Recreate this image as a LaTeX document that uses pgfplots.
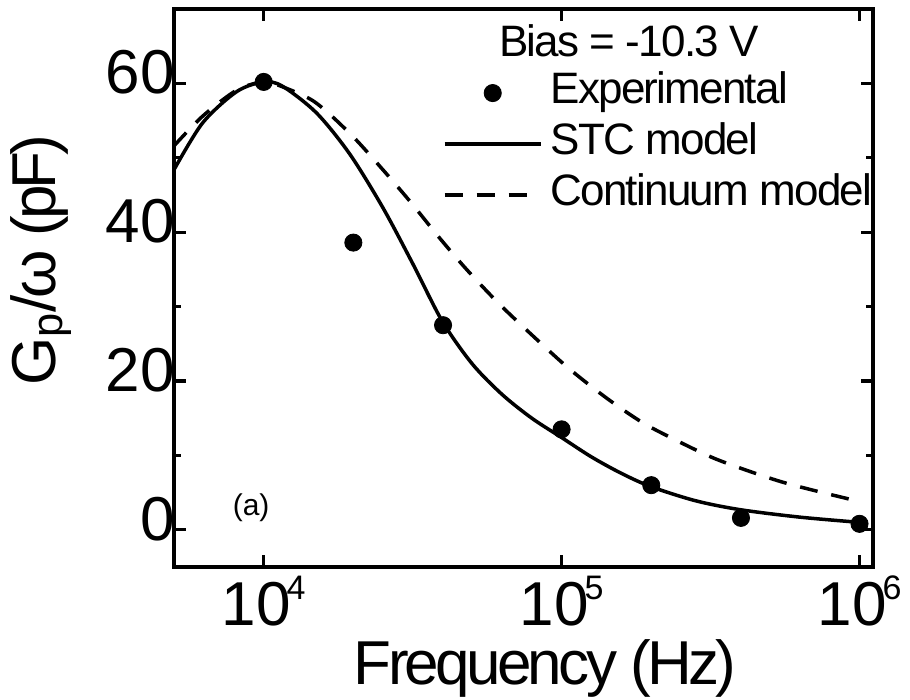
\documentclass[border=0pt]{standalone}
\usepackage{fontspec}
\setmainfont{Liberation Sans}
\usepackage{pgfplots}
\pgfplotsset{compat=1.18}
\newcommand{\bigf}{\fontsize{31}{36}\selectfont\addfontfeatures{LetterSpace=-6}}
\newcommand{\tickf}{\fontsize{31}{36}\selectfont}
\newcommand{\legf}{\fontsize{22}{26}\selectfont\addfontfeatures{LetterSpace=-4}}
\newcommand{\dec}[1]{10\kern-2pt\raisebox{0.42em}{\fontsize{17}{17}\selectfont #1}}
\begin{document}
\begin{tikzpicture}
\path[use as bounding box] (-87pt,-66.5pt) rectangle (368pt,283.5pt);
\begin{axis}[
  at={(0pt,0pt)}, anchor=south west,
  width=349.5pt, height=279pt, scale only axis,
  xmode=log, log basis x=10,
  xmin=5000, xmax=1.11e6, ymin=-5, ymax=70,
  axis line style={line width=2pt},
  every tick/.style={black, line width=1.6pt},
  major tick length=6pt, minor tick length=3.5pt,
  tick align=inside,
  xtick={1e4,1e5,1e6},
  xticklabels={\dec{4},\dec{5},\dec{6}},
  ytick={0,20,40,60}, yticklabels={0,20,40,60},
  minor ytick={10,30,50},
  xticklabel style={font=\tickf, anchor=base, inner sep=0pt, yshift=-29.5pt},
  yticklabel style={font=\tickf, inner sep=0pt, xshift=0.5pt, yshift=5.5pt},
  xlabel={Frequency (Hz)},
  ylabel={G\textsubscript{p}/ω (pF)},
  xlabel style={font=\bigf, inner sep=0pt, at={(axis description cs:0.531,-0.210)}, anchor=base},
  ylabel style={font=\bigf, at={(axis description cs:-0.170,0.55)}, anchor=base},
  legend image code/.code={\draw[mark repeat=2,mark phase=2,#1] plot coordinates {(0pt,0pt) (24pt,0pt) (48pt,0pt)};},
  legend style={draw=none, fill=none, inner sep=0pt, outer sep=0pt,
    at={(axis description cs:0.3848,0.887)}, anchor=north west,
    row sep=4.5pt, column sep=4pt, font=\legf,
    nodes={inner sep=0pt, text height=15.5pt, text depth=5.5pt}},
  legend cell align=left,
  clip=true,
]
\addplot[only marks, mark=*, mark size=4.3pt, black] coordinates {
(10000,60.2) (20000,38.6) (40000,27.5) (100000,13.5) (200000,6.0) (400000,1.6) (1000000,0.8)
};
\addlegendentry{Experimental}
\addplot[black, line width=1.75pt, smooth] coordinates {
(5000,48.4) (6240,54.7) (8120,58.9) (10000,60.2) (11588,59.6) (15066,56.0)
(19454,50.5) (25119,43.3) (31623,35.8) (39811,28.0) (50119,22.3) (63096,18.2)
(79433,15.0) (100000,12.4) (125893,9.8) (158489,7.6) (199526,5.8) (281838,3.9)
(398107,2.7) (630957,1.7) (1000000,1.0)
};
\addlegendentry{STC model}
\addplot[black, line width=1.75pt, dash pattern=on 9pt off 7pt, smooth] coordinates {
(5000,51.6) (6240,55.6) (8120,59.1) (10000,60.3) (10470,60.2) (14590,57.7)
(19440,53.3) (24490,48.9) (30900,44.2) (38990,39.2) (47970,35.0) (61950,30.3)
(82440,25.6) (106400,21.6) (141600,17.7) (187100,14.4) (243300,12.0) (321100,9.7)
(417500,8.0) (552200,6.4) (734800,5.1) (1000000,3.8)
};
\addlegendentry{Continuum model}
\node[font=\legf, anchor=base] at (axis description cs:0.651,0.914) {Bias = -10.3 V};
\node[font=\fontsize{15}{18}\selectfont, anchor=base west] at (axis description cs:0.074,0.093) {(a)};
\end{axis}
\end{tikzpicture}
\end{document}
